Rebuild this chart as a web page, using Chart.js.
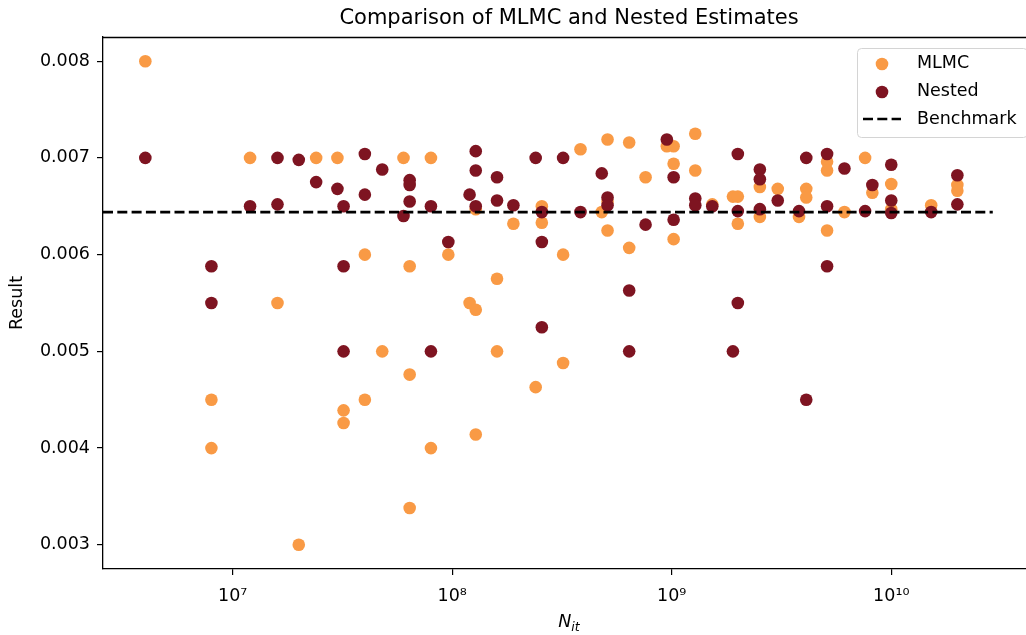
<!DOCTYPE html>
<html>
<head>
<meta charset="utf-8">
<script src="https://cdn.jsdelivr.net/npm/chart.js@4.4.0/dist/chart.umd.min.js"></script>
<style>
  html, body { margin: 0; padding: 0; background: #ffffff; }
  #wrap { width: 1026px; height: 635px; }
</style>
</head>
<body>
<div id="wrap"><canvas id="c" width="1026" height="635"></canvas></div>
<script>
// ---- Data ----
const mlmcN = [4e6, 8e6, 8e6, 1.2e7, 1.6e7, 2e7, 2.4e7, 3e7, 3.2e7, 3.2e7, 4e7, 4e7, 4.8e7, 6e7, 6.4e7, 6.4e7, 6.4e7, 8e7, 8e7, 9.6e7, 1.2e8, 1.28e8, 1.28e8, 1.28e8, 1.6e8, 1.6e8, 1.9e8, 2.4e8, 2.56e8, 2.56e8, 3.2e8, 3.2e8, 3.84e8, 4.8e8, 5.1e8, 5.1e8, 5.1e8, 6.4e8, 6.4e8, 7.6e8, 9.5e8, 1.02e9, 1.02e9, 1.02e9, 1.28e9, 1.28e9, 1.53e9, 1.9e9, 2e9, 2e9, 2.52e9, 2.52e9, 3.04e9, 3.8e9, 4.1e9, 4.1e9, 5.1e9, 5.1e9, 5.1e9, 6.12e9, 7.6e9, 8.2e9, 1e10, 1e10, 1.52e10, 2e10, 2e10];
const mlmcResult = [0.008, 0.0045, 0.004, 0.007, 0.0055, 0.003, 0.007, 0.007, 0.00439, 0.00426, 0.006, 0.0045, 0.005, 0.007, 0.00588, 0.00476, 0.00338, 0.007, 0.004, 0.006, 0.0055, 0.00647, 0.00543, 0.00414, 0.00575, 0.005, 0.00632, 0.00463, 0.0065, 0.00633, 0.006, 0.00488, 0.00709, 0.00644, 0.00719, 0.00655, 0.00625, 0.00716, 0.00607, 0.0068, 0.00712, 0.00712, 0.00694, 0.00616, 0.00725, 0.00687, 0.00652, 0.0066, 0.0066, 0.00632, 0.0067, 0.00639, 0.00668, 0.00639, 0.00668, 0.00659, 0.00696, 0.00687, 0.00625, 0.00644, 0.007, 0.00664, 0.00673, 0.00647, 0.00651, 0.00672, 0.00666];

const nestedN = [4e6, 8e6, 8e6, 1.2e7, 1.6e7, 1.6e7, 2e7, 2.4e7, 3e7, 3.2e7, 3.2e7, 3.2e7, 4e7, 4e7, 4.8e7, 6e7, 6.4e7, 6.4e7, 6.4e7, 8e7, 8e7, 9.6e7, 1.2e8, 1.28e8, 1.28e8, 1.28e8, 1.6e8, 1.6e8, 1.9e8, 2.4e8, 2.56e8, 2.56e8, 2.56e8, 3.2e8, 3.84e8, 4.8e8, 5.1e8, 5.1e8, 6.4e8, 6.4e8, 7.6e8, 9.5e8, 1.02e9, 1.02e9, 1.28e9, 1.28e9, 1.53e9, 1.9e9, 2e9, 2e9, 2e9, 2.52e9, 2.52e9, 2.52e9, 3.04e9, 3.8e9, 4.1e9, 4.1e9, 5.1e9, 5.1e9, 5.1e9, 6.12e9, 7.6e9, 8.2e9, 1e10, 1e10, 1e10, 1.52e10, 2e10, 2e10];
const nestedResult = [0.007, 0.00588, 0.0055, 0.0065, 0.007, 0.00652, 0.00698, 0.00675, 0.00668, 0.0065, 0.00588, 0.005, 0.00704, 0.00662, 0.00688, 0.0064, 0.00677, 0.00672, 0.00655, 0.0065, 0.005, 0.00613, 0.00662, 0.00707, 0.00687, 0.0065, 0.0068, 0.00656, 0.00651, 0.007, 0.00644, 0.00613, 0.00525, 0.007, 0.00644, 0.00684, 0.00659, 0.00651, 0.00563, 0.005, 0.00631, 0.00719, 0.0068, 0.00636, 0.00658, 0.00651, 0.0065, 0.005, 0.00704, 0.00645, 0.0055, 0.00688, 0.00678, 0.00647, 0.00656, 0.00645, 0.007, 0.0045, 0.00704, 0.0065, 0.00588, 0.00689, 0.00645, 0.00672, 0.00693, 0.00656, 0.00643, 0.00644, 0.00682, 0.00652];

const benchmarkValue = 0.00644;
const benchmarkN = [2.566e6, 2.9e10];

const xTickValues = [1e7, 1e8, 1e9, 1e10];
const xTickLabels = ['10\u2077', '10\u2078', '10\u2079', '10\u00B9\u2070'];
const yTickValues = [0.003, 0.004, 0.005, 0.006, 0.007, 0.008];
const yTickLabels = ['0.003', '0.004', '0.005', '0.006', '0.007', '0.008'];

const seriesNames = ['MLMC', 'Nested', 'Benchmark'];
const titleText = 'Comparison of MLMC and Nested Estimates';
const yTitle = 'Result';
const xTitleMain = 'N';
const xTitleSub = 'it';

// ---- Styles ----
const FONT = "'DejaVu Sans', sans-serif";
const TICK_SIZE = 17.5;
const ORANGE = '#F99A45';
const DARKRED = '#7E1421';
const X_MIN = 2.566e6, X_MAX = 4.109e10;
const Y_MIN = 0.00275, Y_MAX = 0.00825;

const zip = (xs, ys) => xs.map((x, i) => ({ x: x, y: ys[i] }));

const frameAndText = {
  id: 'frameAndText',
  afterDraw(chart) {
    const ctx = chart.ctx;
    const a = chart.chartArea;
    ctx.save();
    // top spine (right spine lies outside the picture)
    ctx.strokeStyle = '#000';
    ctx.lineWidth = 1.3;
    ctx.beginPath();
    ctx.moveTo(a.left, a.top + 0.5);
    ctx.lineTo(chart.width, a.top + 0.5);
    ctx.stroke();

    const cx = (a.left + 1035) / 2;
    // title
    ctx.fillStyle = '#000';
    ctx.font = '21px ' + FONT;
    ctx.textAlign = 'center';
    ctx.textBaseline = 'middle';
    ctx.fillText(titleText, cx, 19);

    // x axis title: N_it
    ctx.font = 'italic 17.5px ' + FONT;
    const wN = ctx.measureText(xTitleMain).width;
    ctx.font = 'italic 12.5px ' + FONT;
    const wS = ctx.measureText(xTitleSub).width;
    const startX = cx - (wN + wS) / 2;
    ctx.textAlign = 'left';
    ctx.textBaseline = 'alphabetic';
    ctx.font = 'italic 17.5px ' + FONT;
    ctx.fillText(xTitleMain, startX, 627);
    ctx.font = 'italic 12.5px ' + FONT;
    ctx.fillText(xTitleSub, startX + wN, 631);

    // legend
    const lx = 857, ly = 48, lw = 170, lh = 89;
    ctx.fillStyle = 'rgba(255,255,255,0.85)';
    ctx.strokeStyle = '#d4d4d4';
    ctx.lineWidth = 1;
    ctx.beginPath();
    if (ctx.roundRect) ctx.roundRect(lx + 0.5, ly + 0.5, lw, lh, 4);
    else ctx.rect(lx + 0.5, ly + 0.5, lw, lh);
    ctx.fill();
    ctx.stroke();

    const rows = [63, 91, 119];
    ctx.fillStyle = ORANGE;
    ctx.beginPath(); ctx.arc(882, rows[0] + 1, 6.3, 0, Math.PI * 2); ctx.fill();
    ctx.fillStyle = DARKRED;
    ctx.beginPath(); ctx.arc(882, rows[1] + 1, 6.3, 0, Math.PI * 2); ctx.fill();
    ctx.strokeStyle = '#000';
    ctx.lineWidth = 2.7;
    ctx.setLineDash([10, 4.3]);
    ctx.beginPath(); ctx.moveTo(863, rows[2]); ctx.lineTo(901, rows[2]); ctx.stroke();
    ctx.setLineDash([]);

    ctx.fillStyle = '#000';
    ctx.font = '17.5px ' + FONT;
    ctx.textAlign = 'left';
    ctx.textBaseline = 'middle';
    for (let i = 0; i < 3; i++) ctx.fillText(seriesNames[i], 917, rows[i]);
    ctx.restore();
  }
};

new Chart(document.getElementById('c'), {
  type: 'scatter',
  data: {
    datasets: [
      {
        label: seriesNames[0],
        data: zip(mlmcN, mlmcResult),
        backgroundColor: ORANGE,
        borderWidth: 0,
        pointRadius: 6.3,
        pointHoverRadius: 6.3,
        order: 2
      },
      {
        label: seriesNames[1],
        data: zip(nestedN, nestedResult),
        backgroundColor: DARKRED,
        borderWidth: 0,
        pointRadius: 6.3,
        pointHoverRadius: 6.3,
        order: 1
      },
      {
        label: seriesNames[2],
        type: 'line',
        data: benchmarkN.map(x => ({ x: x, y: benchmarkValue })),
        borderColor: '#000',
        borderWidth: 2.7,
        borderDash: [10, 4.3],
        pointRadius: 0,
        fill: false,
        showLine: true,
        order: 0
      }
    ]
  },
  options: {
    responsive: false,
    devicePixelRatio: 1,
    animation: false,
    layout: { autoPadding: false, padding: { top: 37, left: 0, right: 0, bottom: 0 } },
    plugins: {
      legend: { display: false },
      title: { display: false },
      tooltip: { enabled: false }
    },
    scales: {
      x: {
        type: 'logarithmic',
        position: 'bottom',
        min: X_MIN,
        max: X_MAX,
        afterFit(s) { s.height = 66; s.paddingLeft = 0; s.paddingRight = 0; },
        afterBuildTicks(s) { s.ticks = xTickValues.map(v => ({ value: v })); },
        ticks: {
          autoSkip: false,
          maxRotation: 0,
          padding: 11,
          color: '#000',
          font: { family: FONT, size: TICK_SIZE },
          callback: (v) => { const i = xTickValues.indexOf(v); return i >= 0 ? xTickLabels[i] : ''; }
        },
        grid: { display: true, drawOnChartArea: false, drawTicks: true, tickLength: 6, color: '#000', lineWidth: 1.2 },
        border: { display: true, color: '#000', width: 1.3 }
      },
      y: {
        type: 'linear',
        position: 'left',
        min: Y_MIN,
        max: Y_MAX,
        afterFit(s) { s.width = 103; s.paddingTop = 0; s.paddingBottom = 0; },
        afterBuildTicks(s) { s.ticks = yTickValues.map(v => ({ value: v })); },
        ticks: {
          padding: 7,
          color: '#000',
          font: { family: FONT, size: TICK_SIZE },
          callback: (v) => { const i = yTickValues.indexOf(v); return i >= 0 ? yTickLabels[i] : ''; }
        },
        title: {
          display: true,
          text: yTitle,
          color: '#000',
          font: { family: FONT, size: TICK_SIZE },
          padding: { top: 7, bottom: 0 }
        },
        grid: { display: true, drawOnChartArea: false, drawTicks: true, tickLength: 6, color: '#000', lineWidth: 1.2 },
        border: { display: true, color: '#000', width: 1.3 }
      }
    }
  },
  plugins: [frameAndText]
});
</script>
</body>
</html>
